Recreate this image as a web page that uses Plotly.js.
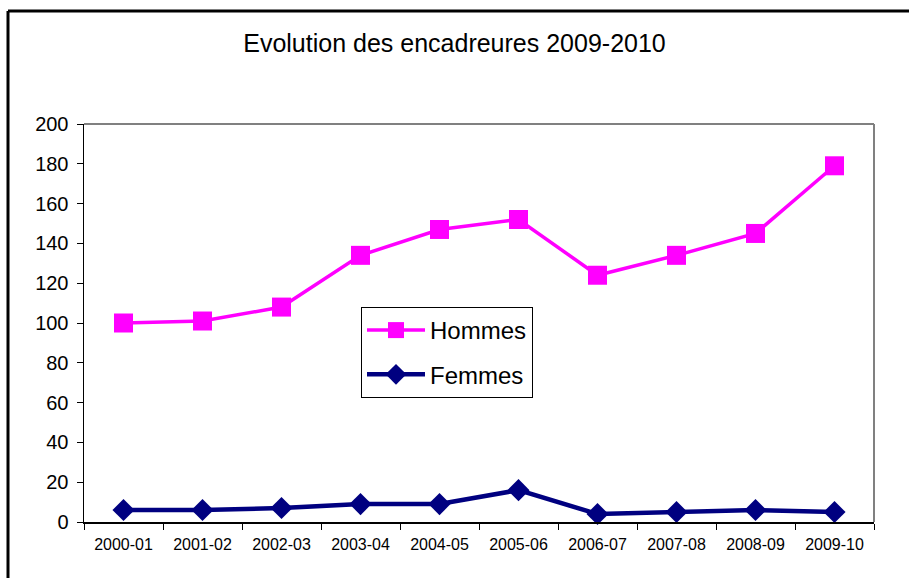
<!DOCTYPE html>
<html>
<head>
<meta charset="utf-8">
<script src="https://cdn.plot.ly/plotly-3.0.1.min.js"></script>
<style>html,body{margin:0;padding:0;background:#fff;}#chart{width:909px;height:578px;}</style>
</head>
<body>
<div id="chart"></div>
<script>
var categories = ["2000-01","2001-02","2002-03","2003-04","2004-05","2005-06","2006-07","2007-08","2008-09","2009-10"];
var hommes = [100, 101, 108, 134, 147, 152, 124, 134, 145, 179];
var femmes = [6, 6, 7, 9, 9, 16, 4, 5, 6, 5];
var yTicks = [0, 20, 40, 60, 80, 100, 120, 140, 160, 180, 200];

var W = 909, H = 578, ML = 84, MR = 35, MT = 124, MB = 56;
var PW = W - ML - MR, PH = H - MT - MB;
function px(x){ return (x - ML) / PW; }
function py(y){ return 1 - (y - MT) / PH; }

var traces = [
  {x: categories, y: hommes, name: "Hommes", legendgroup: "h", type: "scatter", mode: "lines+markers",
   line: {color: "#FF00FF", width: 3.5}, marker: {symbol: "square", size: 19, color: "#FF00FF"}, cliponaxis: false},
  {x: categories, y: femmes, name: "Femmes", legendgroup: "f", type: "scatter", mode: "lines+markers",
   line: {color: "#000080", width: 4.5}, marker: {symbol: "diamond", size: 17, color: "#000080"}, cliponaxis: false}
];

var layout = {
  width: W, height: H,
  margin: {l: ML, r: MR, t: MT, b: MB},
  paper_bgcolor: "#fff", plot_bgcolor: "#fff",
  font: {family: "Liberation Sans, Arial, sans-serif", color: "#000"},
  title: {text: "Evolution des encadreures 2009-2010", font: {size: 25, family: "Liberation Sans, Arial, sans-serif", color: "#000"},
          x: 0.5, xanchor: "center", y: 1 - 43/H, yanchor: "middle"},
  showlegend: true,
  legend: {x: px(361), y: py(307), xanchor: "left", yanchor: "top", bgcolor: "#fff",
           bordercolor: "#000", borderwidth: 1, font: {size: 24}, itemwidth: 58, tracegroupgap: 10},
  xaxis: {type: "category", tickson: "boundaries", ticks: "outside", ticklen: 6, tickcolor: "#000",
          showline: true, linecolor: "#000", linewidth: 1.5, showgrid: false, zeroline: false,
          tickfont: {size: 16}, ticklabelstandoff: 7, range: [-0.5, categories.length - 0.5], fixedrange: true},
  yaxis: {range: [0, 200], tickvals: yTicks, ticktext: yTicks.map(String), ticks: "outside", ticklen: 6, tickcolor: "#000",
          showline: true, linecolor: "#000", linewidth: 1.5, showgrid: false, zeroline: false,
          tickfont: {size: 20}, ticklabelstandoff: 4, fixedrange: true},
  shapes: [
    {type: "line", xref: "paper", yref: "paper", x0: 0, x1: 1, y0: 1, y1: 1, line: {color: "#808080", width: 2}},
    {type: "line", xref: "paper", yref: "paper", x0: 1, x1: 1, y0: 0, y1: 1, line: {color: "#808080", width: 2}},
    {type: "line", xref: "paper", yref: "paper", x0: px(8), x1: px(909), y0: py(11), y1: py(11), line: {color: "#000", width: 3}},
    {type: "line", xref: "paper", yref: "paper", x0: px(8), x1: px(8), y0: py(11), y1: py(578), line: {color: "#000", width: 3}}
  ]
};

Plotly.newPlot("chart", traces, layout, {displayModeBar: false, staticPlot: true});
</script>
</body>
</html>
